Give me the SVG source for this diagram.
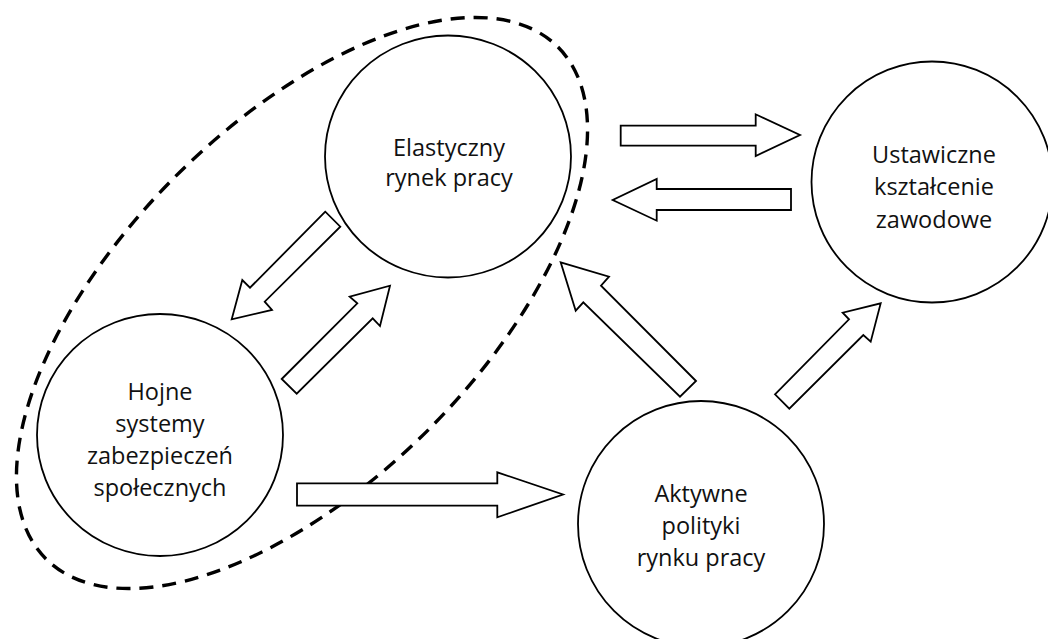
<svg xmlns="http://www.w3.org/2000/svg" width="1048" height="639" viewBox="0 0 1048 639">
<style>
.node{fill:#fff;stroke:#000;stroke-width:1.8}
.arrow{fill:#fff;stroke:#000;stroke-width:1.8;stroke-linejoin:miter}
.lbl{font-family:"Open Sans",Lato,"Liberation Sans",sans-serif;font-size:23.5px;fill:#111;text-anchor:middle}
.group{fill:none;stroke:#000;stroke-width:3.4;stroke-dasharray:14 9}
</style>
<rect width="1048" height="639" fill="#fff"/>
<ellipse id="grouping" class="group" cx="302" cy="303" rx="362" ry="179" transform="rotate(-45 302 303)"/>
<g id="node-elastyczny">
<ellipse class="node" cx="448" cy="156.5" rx="123" ry="121"/>
<text class="lbl" x="449" y="155.5">Elastyczny</text>
<text class="lbl" x="449" y="186">rynek pracy</text>
</g>
<g id="node-hojne">
<ellipse class="node" cx="160" cy="435" rx="123" ry="121"/>
<text class="lbl" x="160" y="400">Hojne</text>
<text class="lbl" x="160" y="432">systemy</text>
<text class="lbl" x="160" y="464">zabezpieczeń</text>
<text class="lbl" x="160" y="496">społecznych</text>
</g>
<g id="node-ustawiczne">
<ellipse class="node" cx="932" cy="182" rx="120.5" ry="120.5"/>
<text class="lbl" x="934" y="163">Ustawiczne</text>
<text class="lbl" x="934" y="195">kształcenie</text>
<text class="lbl" x="934" y="227.5">zawodowe</text>
</g>
<g id="node-aktywne">
<ellipse class="node" cx="701" cy="524" rx="123" ry="123"/>
<text class="lbl" x="701" y="501.5">Aktywne</text>
<text class="lbl" x="701" y="534">polityki</text>
<text class="lbl" x="701" y="566">rynku pracy</text>
</g>
<g id="connectors">
<polygon class="arrow" points="325.3,211.7 250,287.7 242.3,280 231.7,319.3 272,310 264.7,301.7 340.3,226.7"/>
<polygon class="arrow" points="281.7,379 357.3,303.3 349.7,296.7 390,285.7 380,326 372.7,318.3 296.7,393.7"/>
<polygon class="arrow" points="297,483.3 497.3,483.3 497.3,472.3 563,494.5 497.3,517.3 497.3,505.7 297,505.7"/>
<polygon class="arrow" points="620.7,125.7 755.7,125.7 755.7,114.3 800,135 755.7,156 755.7,145.7 620.7,145.7"/>
<polygon class="arrow" points="791,189 656.7,189 656.7,179 612.7,200 656.7,220.7 656.7,210 791,210"/>
<polygon class="arrow" points="696,381 601,285.7 609,276.7 560.7,262.3 575.7,310.7 583.3,302.3 680,396.7"/>
<polygon class="arrow" points="775,394.3 849,319.3 842.7,312.7 880.7,303.3 870.7,341.7 863.3,335 789.3,408.7"/>
</g>
</svg>
